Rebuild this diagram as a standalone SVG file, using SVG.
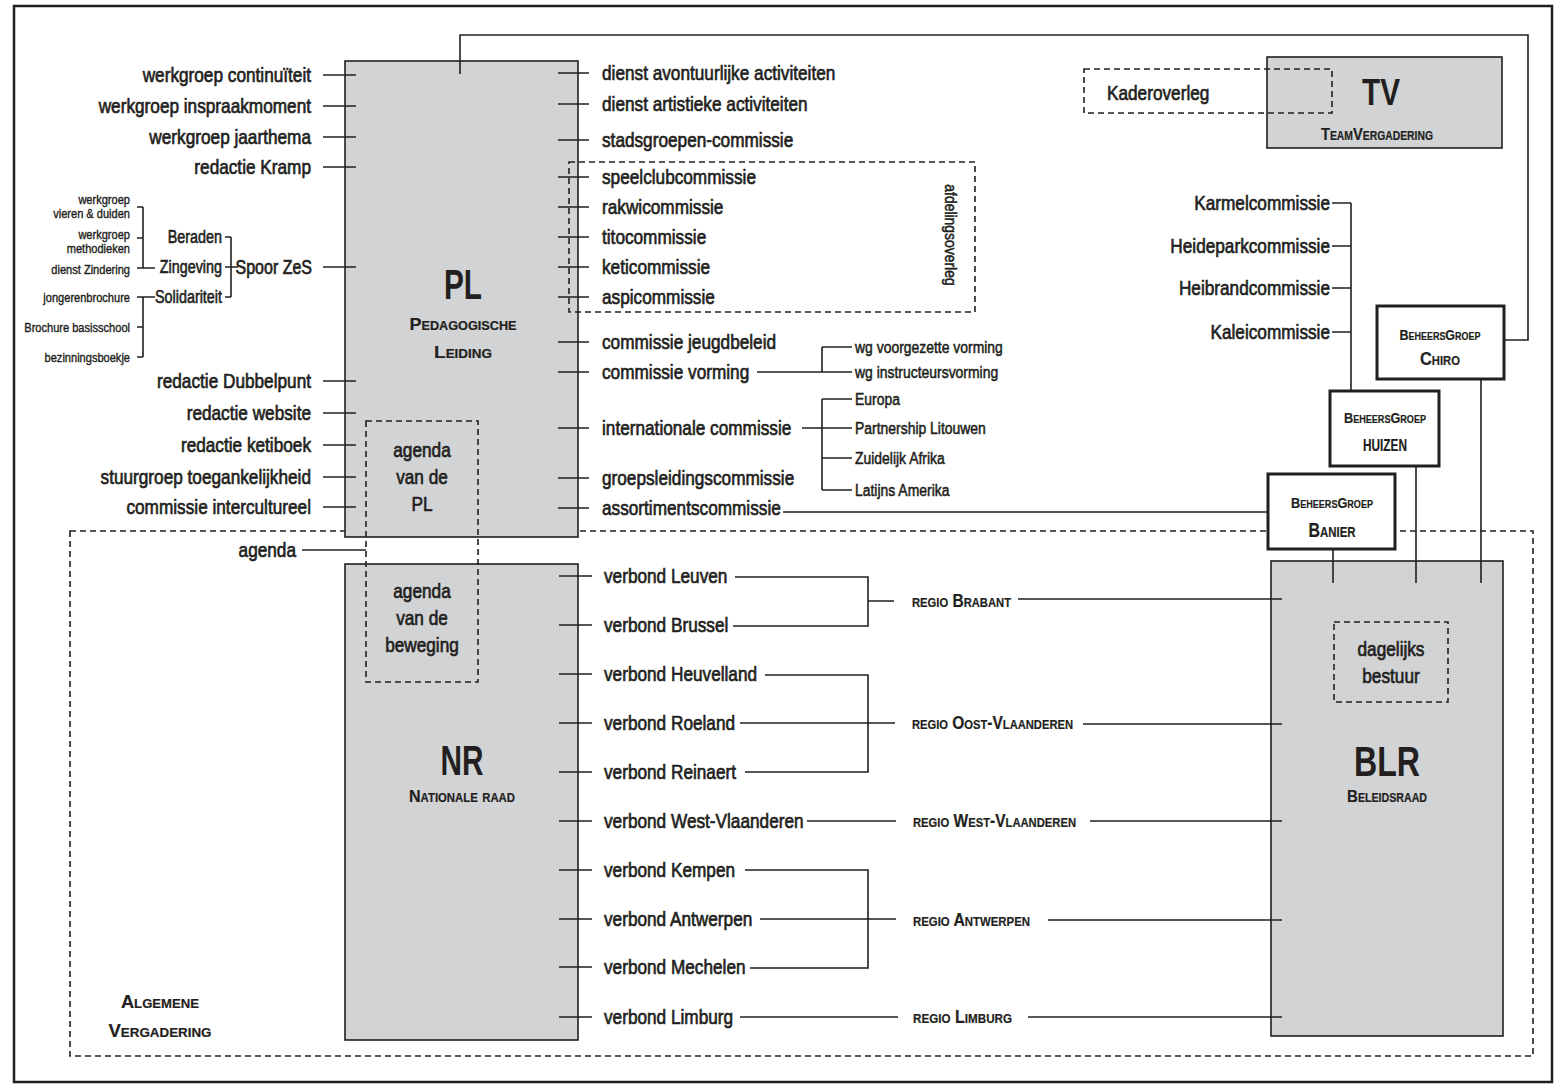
<svg xmlns="http://www.w3.org/2000/svg" width="1562" height="1088" viewBox="0 0 1562 1088">
<style>
text{font-family:"Liberation Sans",Arial,sans-serif;fill:#231f20;stroke:#231f20;stroke-width:0.7}
.l{font-size:21px}
.s{font-size:17px;stroke-width:0.55}
.xs{font-size:13.5px;stroke-width:0.4}
.m{font-size:17.5px;stroke-width:0.6}
.e{text-anchor:end}
.c{text-anchor:middle}
.big{font-weight:bold;stroke-width:0}
.sc{font-variant:small-caps;font-weight:bold;stroke-width:0.2}
.ln{stroke:#231f20;stroke-width:1.6;fill:none}
.dash{stroke:#231f20;stroke-width:1.6;fill:none;stroke-dasharray:6 4}
.box{fill:#d1d3d4;stroke:#231f20;stroke-width:1.6}
.bg{fill:#fff;stroke:#231f20;stroke-width:3}
</style>
<rect width="1562" height="1088" fill="#fff"/>
<rect x="14" y="6" width="1538" height="1076" fill="none" stroke="#231f20" stroke-width="2.5"/>

<g id="av">
<rect class="dash" x="70" y="531" width="1463" height="525"/>
<text class="sc c" x="160" y="1008" font-size="18" textLength="78" lengthAdjust="spacingAndGlyphs">Algemene</text>
<text class="sc c" x="160" y="1037" font-size="18" textLength="103" lengthAdjust="spacingAndGlyphs">Vergadering</text>
</g>

<g id="pl">
<rect class="box" x="345" y="61" width="233" height="476"/>
<text class="big c" x="463" y="299" font-size="42" textLength="38" lengthAdjust="spacingAndGlyphs">PL</text>
<text class="sc c" x="463" y="330" font-size="17" textLength="107" lengthAdjust="spacingAndGlyphs">Pedagogische</text>
<text class="sc c" x="463" y="358" font-size="17" textLength="58" lengthAdjust="spacingAndGlyphs">Leiding</text>
</g>

<g id="nr">
<rect class="box" x="345" y="564" width="233" height="476"/>
<text class="big c" x="462" y="775" font-size="42" textLength="43" lengthAdjust="spacingAndGlyphs">NR</text>
<text class="sc c" x="462" y="802" font-size="17" textLength="106" lengthAdjust="spacingAndGlyphs">Nationale raad</text>
</g>

<g id="blr">
<rect class="box" x="1271" y="561" width="232" height="475"/>
<text class="big c" x="1387" y="776" font-size="42" textLength="66" lengthAdjust="spacingAndGlyphs">BLR</text>
<text class="sc c" x="1387" y="802" font-size="17" textLength="80" lengthAdjust="spacingAndGlyphs">Beleidsraad</text>
</g>

<g id="tv">
<rect class="box" x="1267" y="57" width="235" height="91"/>
<text class="big c" x="1381" y="105" font-size="36" textLength="38" lengthAdjust="spacingAndGlyphs">TV</text>
<text class="sc c" x="1377" y="140" font-size="17" textLength="112" lengthAdjust="spacingAndGlyphs">TeamVergadering</text>
</g>

<g id="bg-chiro">
<rect class="bg" x="1377" y="306" width="127" height="73"/>
<text class="sc c" x="1440" y="340" font-size="14" textLength="81" lengthAdjust="spacingAndGlyphs">BeheersGroep</text>
<text class="sc c" x="1440" y="365" font-size="19" textLength="40" lengthAdjust="spacingAndGlyphs">Chiro</text>
</g>
<g id="bg-huizen">
<rect class="bg" x="1330" y="391" width="109" height="75"/>
<text class="sc c" x="1385" y="423" font-size="14" textLength="82" lengthAdjust="spacingAndGlyphs">BeheersGroep</text>
<text class="sc c" x="1385" y="451" font-size="23" textLength="44" lengthAdjust="spacingAndGlyphs">huizen</text>
</g>
<g id="bg-banier">
<rect class="bg" x="1268" y="474" width="127" height="75"/>
<text class="sc c" x="1332" y="508" font-size="14" textLength="82" lengthAdjust="spacingAndGlyphs">BeheersGroep</text>
<text class="sc c" x="1332" y="537" font-size="19.5" textLength="47" lengthAdjust="spacingAndGlyphs">Banier</text>
</g>

<g id="connectors" class="ln">
<path d="M323 75H356M323 106H356M323 137H356M323 167H356M323 267H356M323 381H356M323 413H356M323 445H356M323 477H356M323 507H356"/>
<path d="M302 550H366"/>
<path d="M231 237V297M225 237H231M225 267H238M225 297H231"/>
<path d="M143 207V268M137 207H143M137 238H143M137 268H155"/>
<path d="M143 297V357M137 297H155M137 327H143M137 357H143"/>
<path d="M558 73H589M558 104H589M558 140H589M558 177H589M558 207H589M558 237H589M558 267H589M558 297H589M558 342H589M558 372H589M558 428H589M558 478H589M558 508H589"/>
<path d="M757 372H852M822 347V372M822 347H852"/>
<path d="M802 428H852M822 399V490M822 399H852M822 458H852M822 490H852"/>
<path d="M783 512H1268"/>
<path d="M460 74V35H1528V340H1504"/>
<path d="M1351 203V391M1332 203H1351M1332 246H1351M1332 288H1351M1332 332H1351"/>
<path d="M1481 379V583M1416 466V583M1333 549V583"/>
<path d="M559 576H592M559 625H592M559 674H592M559 723H592M559 772H592M559 821H592M559 870H592M559 919H592M559 967H592M559 1017H592"/>
<path d="M735 577H868V626H733M868 601H894M1018 599H1282"/>
<path d="M765 675H868V772H745M740 723H895M1083 724H1282"/>
<path d="M807 821H896M1090 821H1282"/>
<path d="M745 870H868V968H750M760 919H896M1048 920H1282"/>
<path d="M740 1017H898M1028 1017H1282"/>
</g>

<g id="agenda-pl">
<rect class="dash" x="366" y="421" width="112" height="261"/>
<text class="l c" transform="translate(422 457) scale(.82 1)">agenda</text>
<text class="l c" transform="translate(422 484) scale(.82 1)">van de</text>
<text class="l c" transform="translate(422 511) scale(.82 1)">PL</text>
</g>
<g id="agenda-beweging">
<text class="l c" transform="translate(422 598) scale(.82 1)">agenda</text>
<text class="l c" transform="translate(422 625) scale(.82 1)">van de</text>
<text class="l c" transform="translate(422 652) scale(.82 1)">beweging</text>
</g>
<g id="afdelingsoverleg">
<rect class="dash" x="569" y="162" width="406" height="150"/>
<text class="s c" transform="translate(951 235) rotate(90) scale(.82 1)" y="6">afdelingsoverleg</text>
</g>
<g id="kaderoverleg">
<rect class="dash" x="1084" y="69" width="248" height="44"/>
<text class="l" font-size="20" transform="translate(1107 100) scale(.82 1)">Kaderoverleg</text>
</g>
<g id="dagelijks-bestuur">
<rect class="dash" x="1334" y="622" width="114" height="80"/>
<text class="l c" transform="translate(1391 656) scale(.82 1)">dagelijks</text>
<text class="l c" transform="translate(1391 683) scale(.82 1)">bestuur</text>
</g>

<g id="pl-left">
<g id="n1"><text class="l e" transform="translate(311 82) scale(.82 1)">werkgroep continuïteit</text></g>
<g id="n2"><text class="l e" transform="translate(311 113) scale(.82 1)">werkgroep inspraakmoment</text></g>
<g id="n3"><text class="l e" transform="translate(311 144) scale(.82 1)">werkgroep jaarthema</text></g>
<g id="n4"><text class="l e" transform="translate(311 174) scale(.82 1)">redactie Kramp</text></g>
<g id="n5"><text class="e" font-size="19.5" transform="translate(312 274) scale(.82 1)">Spoor ZeS</text></g>
<g id="n6"><text class="l e" transform="translate(311 388) scale(.82 1)">redactie Dubbelpunt</text></g>
<g id="n7"><text class="l e" transform="translate(311 420) scale(.82 1)">redactie website</text></g>
<g id="n8"><text class="l e" transform="translate(311 452) scale(.82 1)">redactie ketiboek</text></g>
<g id="n9"><text class="l e" transform="translate(311 484) scale(.82 1)">stuurgroep toegankelijkheid</text></g>
<g id="n10"><text class="l e" transform="translate(311 514) scale(.82 1)">commissie intercultureel</text></g>
<g id="n11"><text class="l e" transform="translate(296 557) scale(.82 1)">agenda</text></g>
</g>
<g id="zes">
<g id="z1"><text class="m e" transform="translate(222 243) scale(.82 1)">Beraden</text></g>
<g id="z2"><text class="m e" transform="translate(222 273) scale(.82 1)">Zingeving</text></g>
<g id="z3"><text class="m e" transform="translate(222 303) scale(.82 1)">Solidariteit</text></g>
<g id="z4"><text class="xs e" transform="translate(130 203.5) scale(.82 1)">werkgroep</text><text class="xs e" transform="translate(130 217.5) scale(.82 1)">vieren &amp; duiden</text></g>
<g id="z5"><text class="xs e" transform="translate(130 238.5) scale(.82 1)">werkgroep</text><text class="xs e" transform="translate(130 252.5) scale(.82 1)">methodieken</text></g>
<g id="z6"><text class="xs e" transform="translate(130 273.5) scale(.82 1)">dienst Zindering</text></g>
<g id="z7"><text class="xs e" transform="translate(130 301.5) scale(.82 1)">jongerenbrochure</text></g>
<g id="z8"><text class="xs e" transform="translate(130 331.5) scale(.82 1)">Brochure basisschool</text></g>
<g id="z9"><text class="xs e" transform="translate(130 361.5) scale(.82 1)">bezinningsboekje</text></g>
</g>
<g id="pl-right">
<g id="r1"><text class="l" transform="translate(602 80) scale(.82 1)">dienst avontuurlijke activiteiten</text></g>
<g id="r2"><text class="l" transform="translate(602 111) scale(.82 1)">dienst artistieke activiteiten</text></g>
<g id="r3"><text class="l" transform="translate(602 147) scale(.82 1)">stadsgroepen-commissie</text></g>
<g id="r4"><text class="l" transform="translate(602 184) scale(.82 1)">speelclubcommissie</text></g>
<g id="r5"><text class="l" transform="translate(602 214) scale(.82 1)">rakwicommissie</text></g>
<g id="r6"><text class="l" transform="translate(602 244) scale(.82 1)">titocommissie</text></g>
<g id="r7"><text class="l" transform="translate(602 274) scale(.82 1)">keticommissie</text></g>
<g id="r8"><text class="l" transform="translate(602 304) scale(.82 1)">aspicommissie</text></g>
<g id="r9"><text class="l" transform="translate(602 349) scale(.82 1)">commissie jeugdbeleid</text></g>
<g id="r10"><text class="l" transform="translate(602 379) scale(.82 1)">commissie vorming</text></g>
<g id="r11"><text class="l" transform="translate(602 435) scale(.82 1)">internationale commissie</text></g>
<g id="r12"><text class="l" transform="translate(602 485) scale(.82 1)">groepsleidingscommissie</text></g>
<g id="r13"><text class="l" transform="translate(602 515) scale(.82 1)">assortimentscommissie</text></g>
<g id="w1"><text class="s" transform="translate(855 352.5) scale(.82 1)">wg voorgezette vorming</text></g>
<g id="w2"><text class="s" transform="translate(855 377.5) scale(.82 1)">wg instructeursvorming</text></g>
<g id="i1"><text class="s" transform="translate(855 404.5) scale(.82 1)">Europa</text></g>
<g id="i2"><text class="s" transform="translate(855 433.5) scale(.82 1)">Partnership Litouwen</text></g>
<g id="i3"><text class="s" transform="translate(855 463.5) scale(.82 1)">Zuidelijk Afrika</text></g>
<g id="i4"><text class="s" transform="translate(855 495.5) scale(.82 1)">Latijns Amerika</text></g>
</g>
<g id="commissies">
<g id="k1"><text class="l e" transform="translate(1330 210) scale(.82 1)">Karmelcommissie</text></g>
<g id="k2"><text class="l e" transform="translate(1330 253) scale(.82 1)">Heideparkcommissie</text></g>
<g id="k3"><text class="l e" transform="translate(1330 295) scale(.82 1)">Heibrandcommissie</text></g>
<g id="k4"><text class="l e" transform="translate(1330 339) scale(.82 1)">Kaleicommissie</text></g>
</g>
<g id="verbonden">
<g id="v1"><text class="l" transform="translate(604 583) scale(.82 1)">verbond Leuven</text></g>
<g id="v2"><text class="l" transform="translate(604 632) scale(.82 1)">verbond Brussel</text></g>
<g id="v3"><text class="l" transform="translate(604 681) scale(.82 1)">verbond Heuvelland</text></g>
<g id="v4"><text class="l" transform="translate(604 730) scale(.82 1)">verbond Roeland</text></g>
<g id="v5"><text class="l" transform="translate(604 779) scale(.82 1)">verbond Reinaert</text></g>
<g id="v6"><text class="l" transform="translate(604 828) scale(.82 1)">verbond West-Vlaanderen</text></g>
<g id="v7"><text class="l" transform="translate(604 877) scale(.82 1)">verbond Kempen</text></g>
<g id="v8"><text class="l" transform="translate(604 926) scale(.82 1)">verbond Antwerpen</text></g>
<g id="v9"><text class="l" transform="translate(604 974) scale(.82 1)">verbond Mechelen</text></g>
<g id="v10"><text class="l" transform="translate(604 1024) scale(.82 1)">verbond Limburg</text></g>
</g>
<g id="regios">
<g id="g1"><text class="sc" x="912" y="607" font-size="18" textLength="99" lengthAdjust="spacingAndGlyphs">regio Brabant</text></g>
<g id="g2"><text class="sc" x="912" y="729" font-size="18" textLength="161" lengthAdjust="spacingAndGlyphs">regio Oost-Vlaanderen</text></g>
<g id="g3"><text class="sc" x="913" y="827" font-size="18" textLength="163" lengthAdjust="spacingAndGlyphs">regio West-Vlaanderen</text></g>
<g id="g4"><text class="sc" x="913" y="926" font-size="18" textLength="117" lengthAdjust="spacingAndGlyphs">regio Antwerpen</text></g>
<g id="g5"><text class="sc" x="913" y="1023" font-size="18" textLength="99" lengthAdjust="spacingAndGlyphs">regio Limburg</text></g>
</g>
</svg>
